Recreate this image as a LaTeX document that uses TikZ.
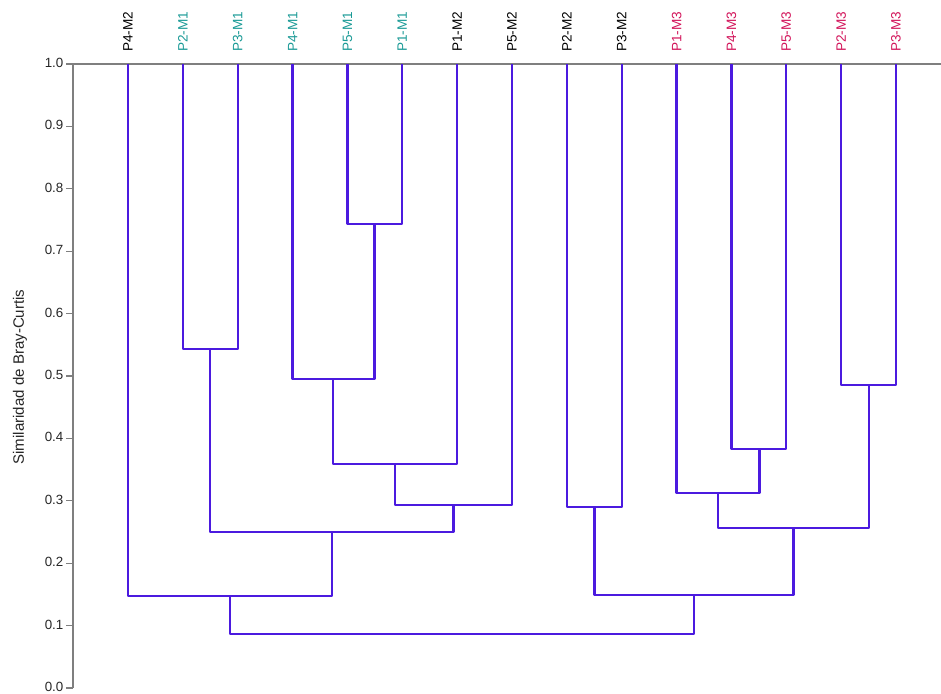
\documentclass[tikz,border=0pt]{standalone}
\usepackage{fontspec}
\setmainfont{Liberation Sans}
\usepackage{tikz}
\usetikzlibrary{positioning}
\definecolor{dendro}{HTML}{4B1ADF}
\definecolor{axisgray}{HTML}{7F7F7F}
\definecolor{grpone}{HTML}{1A9A96}
\definecolor{grpthree}{HTML}{D2145A}
\begin{document}
\begin{tikzpicture}[x=0.75pt, y=-0.75pt, line join=round]
   \useasboundingbox (0,0) rectangle (941,693);
   \tikzset{leaf/.style={rotate=90, anchor=west, inner sep=0pt, font=\fontsize{10.2}{12}\selectfont},
            branch/.style={draw=dendro, line width=1.7pt}}
   % axis
   \draw[axisgray, line width=1.6pt] (941,64) -- (73,64) -- (73,688);
   \foreach \v [count=\i from 0] in {0.0,0.1,0.2,0.3,0.4,0.5,0.6,0.7,0.8,0.9,1.0}
      \draw[axisgray, line width=1pt] (66,688-62.4*\i) -- (73,688-62.4*\i)
         node[pos=0, anchor=east, yshift=0.8pt, black!85, inner sep=1.5pt, font=\fontsize{10}{12}\selectfont] (tk\i) {\v};
   \node[rotate=90, black!85, font=\fontsize{11.3}{13}\selectfont] (ylab) at (20,377) {Similaridad de Bray-Curtis};
   % leaves
   \foreach \lab/\col [count=\i] in {P4-M2/black, P2-M1/grpone, P3-M1/grpone, P4-M1/grpone, P5-M1/grpone,
        P1-M1/grpone, P1-M2/black, P5-M2/black, P2-M2/black, P3-M2/black, P1-M3/grpthree,
        P4-M3/grpthree, P5-M3/grpthree, P2-M3/grpthree, P3-M3/grpthree} {
      \coordinate (t\i) at (128+54.857*\i-54.857,64);
      \node[leaf, text=\col] (l\i) at (128+54.857*\i-54.857,52) {\lab};
   }
   % merge points
   \coordinate (m1) at (374.5,224);
   \coordinate (m2) at (210,349);
   \coordinate (m3) at (333.2,379);
   \coordinate (m4) at (395,464);
   \coordinate (m5) at (453.5,505);
   \coordinate (m6) at (331.7,532);
   \coordinate (m7) at (230,596);
   \coordinate (n1) at (594.5,507);
   \coordinate (n2) at (759.5,449);
   \coordinate (n3) at (718,493);
   \coordinate (n4) at (869,385);
   \coordinate (n5) at (793.5,528);
   \coordinate (n6) at (694,595);
   \coordinate (root) at (462,634);
   \begin{scope}[every path/.style={branch}]
    \draw (t5) |- (m1) -| (t6);
    \draw (t2) |- (m2) -| (t3);
    \draw (t4) |- (m3) -| (m1);
    \draw (m3) |- (m4) -| (t7);
    \draw (m4) |- (m5) -| (t8);
    \draw (m2) |- (m6) -| (m5);
    \draw (t1) |- (m7) -| (m6);
    \draw (t9) |- (n1) -| (t10);
    \draw (t12) |- (n2) -| (t13);
    \draw (t11) |- (n3) -| (n2);
    \draw (t14) |- (n4) -| (t15);
    \draw (n3) |- (n5) -| (n4);
    \draw (n1) |- (n6) -| (n5);
    \draw (m7) |- (root) -| (n6);
   \end{scope}
\end{tikzpicture}
\end{document}
